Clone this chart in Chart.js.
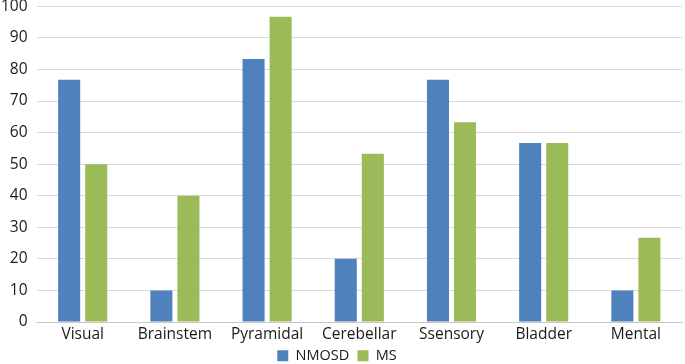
<!DOCTYPE html>
<html><head><meta charset="utf-8">
<script src="https://cdn.jsdelivr.net/npm/chart.js@4.4.1/dist/chart.umd.min.js"></script>
<style>html,body{margin:0;padding:0;background:#fff;overflow:hidden}#w{position:relative;top:-12px;width:685px;height:376px}</style>
</head><body><div id="w"><canvas id="c"></canvas></div>
<script>
const categories = ["Visual","Brainstem","Pyramidal","Cerebellar","Ssensory","Bladder","Mental"];
const nmosd = [76.7,10,83.3,20,76.7,56.7,10];
const ms = [50,40,96.7,53.3,63.3,56.7,26.7];
const yTicks = [0,10,20,30,40,50,60,70,80,90,100];
const font = {family:"'Open Sans', 'Liberation Sans', sans-serif", size:15.5};
const legendFont = {family:"'Open Sans', 'Liberation Sans', sans-serif", size:14.5};
new Chart(document.getElementById('c'),{
  type:'bar',
  data:{labels:categories,datasets:[
    {label:'NMOSD',data:nmosd,backgroundColor:'#4F81BD'},
    {label:'MS',data:ms,backgroundColor:'#9BBB59'}
  ]},
  options:{
    responsive:true,maintainAspectRatio:false,animation:false,
    categoryPercentage:0.587,barPercentage:0.815,
    layout:{padding:{top:0,right:3,left:-8,bottom:-9}},
    plugins:{legend:{position:'bottom',labels:{boxWidth:11,boxHeight:11,font:legendFont,color:'#1a1a1a',padding:1,
      generateLabels(chart){
        const items = Chart.defaults.plugins.legend.labels.generateLabels(chart);
        items.forEach((it,i)=>{ if(i<items.length-1) it.text = it.text + '\u2002'; });
        return items;
      }}},tooltip:{enabled:false}},
    scales:{
      x:{grid:{display:false,drawTicks:false},border:{color:'#c8c8c8'},ticks:{font:Object.assign({},font,{lineHeight:1.0}),color:'#1a1a1a',padding:5}},
      y:{min:0,max:100,afterBuildTicks:a=>{a.ticks=yTicks.map(v=>({value:v}));},
         grid:{color:'#d9d9d9',drawTicks:false},border:{display:false},
         ticks:{font:font,color:'#1a1a1a',padding:9}}
    }
  }
});
</script></body></html>
